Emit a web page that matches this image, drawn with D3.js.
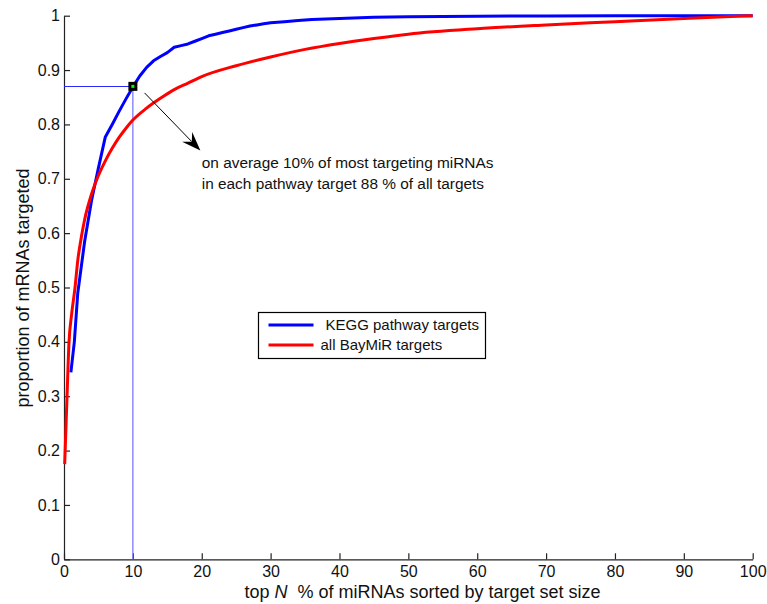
<!DOCTYPE html>
<html>
<head>
<meta charset="utf-8">
<script src="https://cdn.jsdelivr.net/npm/d3@7"></script>
<style>
  body { margin: 0; background: #fff; }
  svg { font-family: "Liberation Sans", Arial, Helvetica, sans-serif; }
</style>
</head>
<body>
<div id="chart"></div>
<script>
// values
const keggX = [1, 1.5, 2, 3, 4, 5, 6, 7, 8, 9, 10, 11, 12, 13, 14, 15, 16, 17, 18, 19, 20, 21, 22, 23, 24, 25, 26, 27, 28, 29, 30, 32, 34, 36, 38, 40, 45, 50, 55, 60, 70, 80, 90, 100];
const keggY = [0.344, 0.40, 0.49, 0.585, 0.66, 0.72, 0.777, 0.800, 0.824, 0.847, 0.869, 0.889, 0.905, 0.917, 0.925, 0.932, 0.942, 0.945, 0.948, 0.953, 0.958, 0.963, 0.966, 0.969, 0.972, 0.975, 0.978, 0.981, 0.983, 0.985, 0.987, 0.989, 0.991, 0.993, 0.994, 0.995, 0.997, 0.998, 0.9985, 0.999, 0.9995, 1, 1, 1];
const bayX = [0.1, 0.44, 0.73, 1.1, 1.6, 2, 2.55, 3, 4, 5, 6, 7, 8, 9, 10, 12, 14, 16, 18, 20, 25, 30, 35, 40, 45, 50, 60, 70, 80, 90, 100];
const bayY = [0.175, 0.30, 0.40, 0.45, 0.50, 0.55, 0.595, 0.625, 0.672, 0.706, 0.733, 0.756, 0.776, 0.793, 0.808, 0.830, 0.848, 0.864, 0.876, 0.888, 0.908, 0.924, 0.938, 0.949, 0.958, 0.966, 0.976, 0.983, 0.989, 0.995, 1.0];
const seriesNames = ["KEGG pathway targets", "all BayMiR targets"];
const seriesColors = ["#0000ff", "#ff0000"];
const xTicks = [0, 10, 20, 30, 40, 50, 60, 70, 80, 90, 100];
const yTicks = [0, 0.1, 0.2, 0.3, 0.4, 0.5, 0.6, 0.7, 0.8, 0.9, 1];
const markX = 10, markY = 0.87;
const arrowFrom = [11.7, 0.858], arrowTo = [19.8, 0.752];
const noteLines = ["on average 10% of most targeting miRNAs", "in each pathway target 88 % of all targets"];

const width = 767, height = 604;
const margin = {left: 64, right: 14.3, top: 15.7, bottom: 44.7};

const svg = d3.select("#chart").append("svg")
    .attr("width", width).attr("height", height);

const x = d3.scaleLinear().domain([0, 100]).range([margin.left, width - margin.right]);
const y = d3.scaleLinear().domain([0, 1]).range([height - margin.bottom, margin.top]);

// axes (ticks point inward)
const xAxis = d3.axisBottom(x).tickValues(xTicks).tickSizeInner(-6).tickSizeOuter(0).tickPadding(6)
    .tickFormat(d3.format("~g"));
const yAxis = d3.axisLeft(y).tickValues(yTicks).tickSizeInner(-6).tickSizeOuter(0).tickPadding(4)
    .tickFormat(d3.format("~g"));

const gx = svg.append("g").attr("transform", `translate(0,${y(0)})`).call(xAxis);
const gy = svg.append("g").attr("transform", `translate(${x(0)},0)`).call(yAxis);
[gx, gy].forEach(g => {
  g.selectAll("path, line").attr("stroke", "#222").attr("stroke-width", 1.2);
  g.selectAll("text").attr("fill", "#111").style("font-size", "16px").style("font-family", "inherit");
});
gx.selectAll("text").attr("dy", "0.71em");

// guide lines to the marked point
svg.append("line")
    .attr("x1", x(0)).attr("x2", x(markX))
    .attr("y1", Math.round(y(markY)) + 0.5).attr("y2", Math.round(y(markY)) + 0.5)
    .attr("stroke", "#2a2aff").attr("stroke-width", 1);
svg.append("line")
    .attr("x1", x(markX)).attr("x2", x(markX))
    .attr("y1", y(markY)).attr("y2", y(0))
    .attr("stroke", "#7070ff").attr("stroke-width", 1.2);

// curves: KEGG is piecewise, BayMiR is smooth
const keggLine = d3.line().x(d => x(d[0])).y(d => y(d[1]));
const bayLine = d3.line().x(d => x(d[0])).y(d => y(d[1])).curve(d3.curveMonotoneX);
const series = [
  {pts: d3.zip(keggX, keggY), gen: keggLine},
  {pts: d3.zip(bayX, bayY), gen: bayLine}
];
series.forEach((s, i) => {
  svg.append("path").datum(s.pts)
      .attr("d", s.gen)
      .attr("fill", "none")
      .attr("stroke", seriesColors[i])
      .attr("stroke-width", 3)
      .attr("stroke-linejoin", "round");
});

// marker
svg.append("rect")
    .attr("x", x(markX) - 4.5).attr("y", y(markY) - 4.5)
    .attr("width", 9).attr("height", 9)
    .attr("fill", "#000");
svg.append("rect")
    .attr("x", x(markX) - 1.5).attr("y", y(markY) - 1.5)
    .attr("width", 3).attr("height", 3)
    .attr("fill", "#00ff00");

// arrow
const ax0 = x(arrowFrom[0]), ay0 = y(arrowFrom[1]);
const ax1 = x(arrowTo[0]), ay1 = y(arrowTo[1]);
const ang = Math.atan2(ay1 - ay0, ax1 - ax0);
const headLen = 19, headW = 7;
const bx = ax1 - headLen * Math.cos(ang), by = ay1 - headLen * Math.sin(ang);
const nx = -Math.sin(ang), ny = Math.cos(ang);
const mx = ax1 - headLen * 0.65 * Math.cos(ang), my = ay1 - headLen * 0.65 * Math.sin(ang);
svg.append("line")
    .attr("x1", ax0).attr("y1", ay0).attr("x2", mx).attr("y2", my)
    .attr("stroke", "#000").attr("stroke-width", 1);
svg.append("path")
    .attr("d", `M${ax1},${ay1} L${bx + nx * headW},${by + ny * headW} L${mx},${my} L${bx - nx * headW},${by - ny * headW} Z`)
    .attr("fill", "#000");

// annotation text
const note = svg.append("text")
    .attr("x", x(20)).attr("y", y(0.72))
    .style("font-size", "15.4px").attr("fill", "#111");
note.selectAll("tspan").data(noteLines).join("tspan")
    .attr("x", x(20)).attr("dy", (d, i) => i ? 21 : 0)
    .text(d => d);

// legend
const lg = svg.append("g").attr("transform", "translate(258.5,312.5)");
lg.append("rect").attr("width", 227).attr("height", 46)
    .attr("fill", "#fff").attr("stroke", "#000").attr("stroke-width", 1.2);
seriesNames.forEach((name, i) => {
  const yy = 12.5 + i * 20;
  lg.append("line").attr("x1", 10).attr("x2", 55).attr("y1", yy).attr("y2", yy)
      .attr("stroke", seriesColors[i]).attr("stroke-width", 3);
  lg.append("text").attr("x", i ? 62 : 67).attr("y", yy + 5)
      .style("font-size", "15px").attr("fill", "#111").text(name);
});

// axis labels
const xl = svg.append("text")
    .attr("x", 422.5).attr("y", 598)
    .attr("text-anchor", "middle")
    .style("font-size", "18px").attr("fill", "#111")
    .style("white-space", "pre");
xl.append("tspan").text("top ");
xl.append("tspan").style("font-style", "italic").text("N");
xl.append("tspan").text("  % of miRNAs sorted by target set size");

svg.append("text")
    .attr("transform", "translate(29,288) rotate(-90)")
    .attr("text-anchor", "middle")
    .style("font-size", "18px").attr("fill", "#111")
    .text("proportion of mRNAs targeted");
</script>
</body>
</html>
